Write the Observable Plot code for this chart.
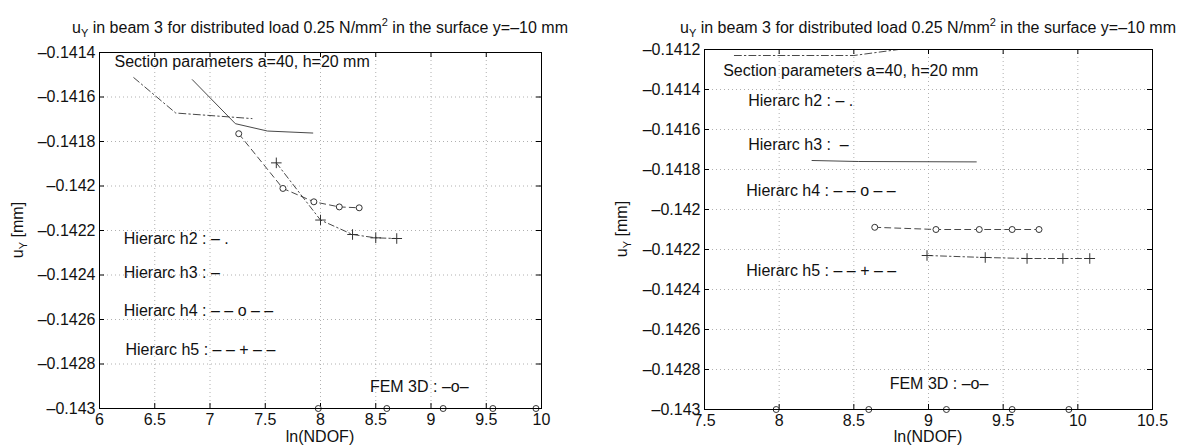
<!DOCTYPE html>
<html>
<head>
<meta charset="utf-8">
<script src="https://cdn.jsdelivr.net/npm/d3@7"></script>
<script src="https://cdn.jsdelivr.net/npm/@observablehq/plot@0.6"></script>
<style>
  html, body { margin: 0; padding: 0; background: #fff; }
  #wrap { position: relative; width: 1191px; height: 447px; font-family: "Liberation Sans", Arial, sans-serif; color: #111; }
  .panel { position: absolute; top: 0; }
  .title { position: absolute; font-size: 16px; white-space: nowrap; transform: translate(-50%, -50%); line-height: 1; }
  .title sub, .ylab sub { font-size: 11px; vertical-align: -4px; line-height: 0; }
  .title sup { font-size: 11px; vertical-align: 7px; line-height: 0; }
  .ylab { position: absolute; font-size: 16px; white-space: nowrap; transform: translate(-50%, -50%) rotate(-90deg); line-height: 1; }
  .xlab { position: absolute; font-size: 16px; white-space: nowrap; transform: translate(-50%, -50%); line-height: 1; }
</style>
</head>
<body>
<div id="wrap"></div>
<script>
// ---------- data: left panel ----------
const xTicksL = [6, 6.5, 7, 7.5, 8, 8.5, 9, 9.5, 10];
const yTicksL = [-0.1414, -0.1416, -0.1418, -0.142, -0.1422, -0.1424, -0.1426, -0.1428, -0.143];
const h2L_x = [6.31, 6.69, 7.38];
const h2L_y = [-0.141513, -0.141672, -0.141697];
const h3L_x = [6.84, 7.23, 7.52, 7.93];
const h3L_y = [-0.141522, -0.14172, -0.141753, -0.141762];
const h4L_x = [7.26, 7.66, 7.94, 8.17, 8.35];
const h4L_y = [-0.141765, -0.142011, -0.142071, -0.142094, -0.142098];
const h5L_x = [7.60, 8.00, 8.29, 8.50, 8.69];
const h5L_y = [-0.141896, -0.142153, -0.142218, -0.142233, -0.142236];
const femL_x = [7.98, 8.60, 9.11, 9.56, 9.95];
const femL_y = [-0.143, -0.143, -0.143, -0.143, -0.143];
const notesL_text = ["Section parameters a=40, h=20 mm", "Hierarc h2 : \u2013 .", "Hierarc h3 : \u2013", "Hierarc h4 : \u2013 \u2013 o \u2013 \u2013", "Hierarc h5 : \u2013 \u2013 + \u2013 \u2013", "FEM 3D : \u2013o\u2013"];
const notesL_x = [6.136, 6.22, 6.22, 6.22, 6.235, 8.447];
const notesL_y = [-0.14144, -0.142239, -0.14239, -0.14256, -0.142736, -0.142901];

// ---------- data: right panel ----------
const xTicksR = [7.5, 8, 8.5, 9, 9.5, 10, 10.5];
const yTicksR = [-0.1412, -0.1414, -0.1416, -0.1418, -0.142, -0.1422, -0.1424, -0.1426, -0.1428, -0.143];
const h2R_x = [7.70, 8.50, 8.80];
const h2R_y = [-0.14123, -0.14123, -0.1412];
const h3R_x = [8.22, 8.53, 9.32];
const h3R_y = [-0.141755, -0.14176, -0.141762];
const h4R_x = [8.64, 9.05, 9.34, 9.56, 9.74];
const h4R_y = [-0.142089, -0.1421, -0.1421, -0.1421, -0.1421];
const h5R_x = [8.99, 9.38, 9.66, 9.90, 10.08];
const h5R_y = [-0.14223, -0.14224, -0.142245, -0.142245, -0.142245];
const femR_x = [7.98, 8.60, 9.12, 9.56, 9.94];
const femR_y = [-0.143, -0.143, -0.143, -0.143, -0.143];
const notesR_text = ["Section parameters a=40, h=20 mm", "Hierarc h2 : \u2013 .", "Hierarc h3 :  \u2013", "Hierarc h4 : \u2013 \u2013 o \u2013 \u2013", "Hierarc h5 : \u2013 \u2013 + \u2013 \u2013", "FEM 3D : \u2013o\u2013"];
const notesR_x = [7.625, 7.793, 7.793, 7.78, 7.78, 8.74];
const notesR_y = [-0.141309, -0.141455, -0.141675, -0.141909, -0.142305, -0.14287];

const titleHTML = "u<sub>Y</sub> in beam 3 for distributed load 0.25 N/mm<sup>2</sup> in the surface y=\u201310 mm";
const yLabelHTML = "u<sub>Y</sub> [mm]";
const xLabel = "ln(NDOF)";

const zip = (xs, ys) => xs.map((x, i) => ({x, y: ys[i]}));
const fmtY = d => String(+d.toFixed(4)).replace("-", "\u2013");
const fmtX = d => String(d);
const LINE = "#333";

function panel(cfg) {
  const innerH = cfg.height - cfg.mt - cfg.mb;
  const marks = [
    Plot.ruleX(cfg.xTicks, {stroke: "#b0b0b0", strokeDasharray: "1,3"}),
    Plot.ruleY(cfg.yTicks, {stroke: "#b0b0b0", strokeDasharray: "1,3"}),
    // inward ticks on all four sides
    Plot.tickX(cfg.xTicks, {x: d => d, stroke: "#000", insetTop: innerH - 5}),
    Plot.tickX(cfg.xTicks, {x: d => d, stroke: "#000", insetBottom: innerH - 5}),
    Plot.tickY(cfg.yTicks, {y: d => d, stroke: "#000", insetRight: cfg.width - cfg.ml - cfg.mr - 5}),
    Plot.tickY(cfg.yTicks, {y: d => d, stroke: "#000", insetLeft: cfg.width - cfg.ml - cfg.mr - 5}),
    Plot.axisX({ticks: cfg.xTicks, tickSize: 0, tickPadding: 5, tickFormat: fmtX, label: null, fontSize: 16}),
    Plot.axisY({ticks: cfg.yTicks, tickSize: 0, tickPadding: 4, tickFormat: fmtY, label: null, fontSize: 16}),
    // series
    Plot.line(zip(cfg.h2x, cfg.h2y), {x: "x", y: "y", stroke: LINE, strokeWidth: 0.9, strokeDasharray: "7,3,1.5,3", clip: true}),
    Plot.line(zip(cfg.h3x, cfg.h3y), {x: "x", y: "y", stroke: LINE, strokeWidth: 0.9, clip: true}),
    Plot.line(zip(cfg.h4x, cfg.h4y), {x: "x", y: "y", stroke: LINE, strokeWidth: 0.9, strokeDasharray: "6,4"}),
    Plot.dot(zip(cfg.h4x, cfg.h4y), {x: "x", y: "y", stroke: LINE, r: 3, fill: "white", strokeWidth: 1}),
    Plot.line(zip(cfg.h5x, cfg.h5y), {x: "x", y: "y", stroke: LINE, strokeWidth: 0.9, strokeDasharray: "6,3,1.5,3"}),
    Plot.dot(zip(cfg.h5x, cfg.h5y), {x: "x", y: "y", stroke: LINE, r: 3.5, symbol: "plus", strokeWidth: 1}),
    Plot.line(zip(cfg.femx, cfg.femy), {x: "x", y: "y", stroke: LINE, strokeWidth: 1.2}),
    Plot.dot(zip(cfg.femx, cfg.femy), {x: "x", y: "y", stroke: LINE, r: 3, fill: "white", strokeWidth: 1}),
    Plot.frame({stroke: "#000", strokeWidth: 1}),
    Plot.text(cfg.notesText.map((t, i) => ({t, x: cfg.notesX[i], y: cfg.notesY[i]})),
      {x: "x", y: "y", text: "t", textAnchor: "start", lineAnchor: "middle", fontSize: 16, fill: "#111"})
  ];
  return Plot.plot({
    width: cfg.width, height: cfg.height,
    marginLeft: cfg.ml, marginRight: cfg.mr, marginTop: cfg.mt, marginBottom: cfg.mb,
    x: {domain: cfg.xDomain},
    y: {domain: cfg.yDomain},
    style: {fontFamily: "'Liberation Sans', Arial, sans-serif", fontSize: "16px", background: "transparent", color: "#111", overflow: "visible"},
    marks
  });
}

const wrap = document.getElementById("wrap");
function addPanel(left, cfg) {
  const d = document.createElement("div");
  d.className = "panel";
  d.style.left = left + "px";
  d.appendChild(panel(cfg));
  wrap.appendChild(d);
  const cx = left + cfg.ml + (cfg.width - cfg.ml - cfg.mr) / 2;
  const cy = cfg.mt + (cfg.height - cfg.mt - cfg.mb) / 2;
  const t = document.createElement("div");
  t.className = "title"; t.innerHTML = titleHTML;
  t.style.left = cx + "px"; t.style.top = cfg.titleY + "px";
  wrap.appendChild(t);
  const yl = document.createElement("div");
  yl.className = "ylab"; yl.innerHTML = yLabelHTML;
  yl.style.left = (left + cfg.ylabX) + "px"; yl.style.top = cy + "px";
  wrap.appendChild(yl);
  const xl = document.createElement("div");
  xl.className = "xlab"; xl.textContent = xLabel;
  xl.style.left = cx + "px"; xl.style.top = cfg.xlabY + "px";
  wrap.appendChild(xl);
}

addPanel(0, {
  width: 595, height: 447, ml: 99, mr: 54, mt: 52, mb: 39,
  xDomain: [6, 10], yDomain: [-0.143, -0.1414], xTicks: xTicksL, yTicks: yTicksL,
  h2x: h2L_x, h2y: h2L_y, h3x: h3L_x, h3y: h3L_y, h4x: h4L_x, h4y: h4L_y,
  h5x: h5L_x, h5y: h5L_y, femx: femL_x, femy: femL_y,
  notesText: notesL_text, notesX: notesL_x, notesY: notesL_y,
  titleY: 28, ylabX: 18, xlabY: 437
});
addPanel(595, {
  width: 596, height: 447, ml: 109, mr: 39, mt: 49, mb: 38,
  xDomain: [7.5, 10.5], yDomain: [-0.143, -0.1412], xTicks: xTicksR, yTicks: yTicksR,
  h2x: h2R_x, h2y: h2R_y, h3x: h3R_x, h3y: h3R_y, h4x: h4R_x, h4y: h4R_y,
  h5x: h5R_x, h5y: h5R_y, femx: femR_x, femy: femR_y,
  notesText: notesR_text, notesX: notesR_x, notesY: notesR_y,
  titleY: 28, ylabX: 27, xlabY: 437
});
</script>
</body>
</html>
